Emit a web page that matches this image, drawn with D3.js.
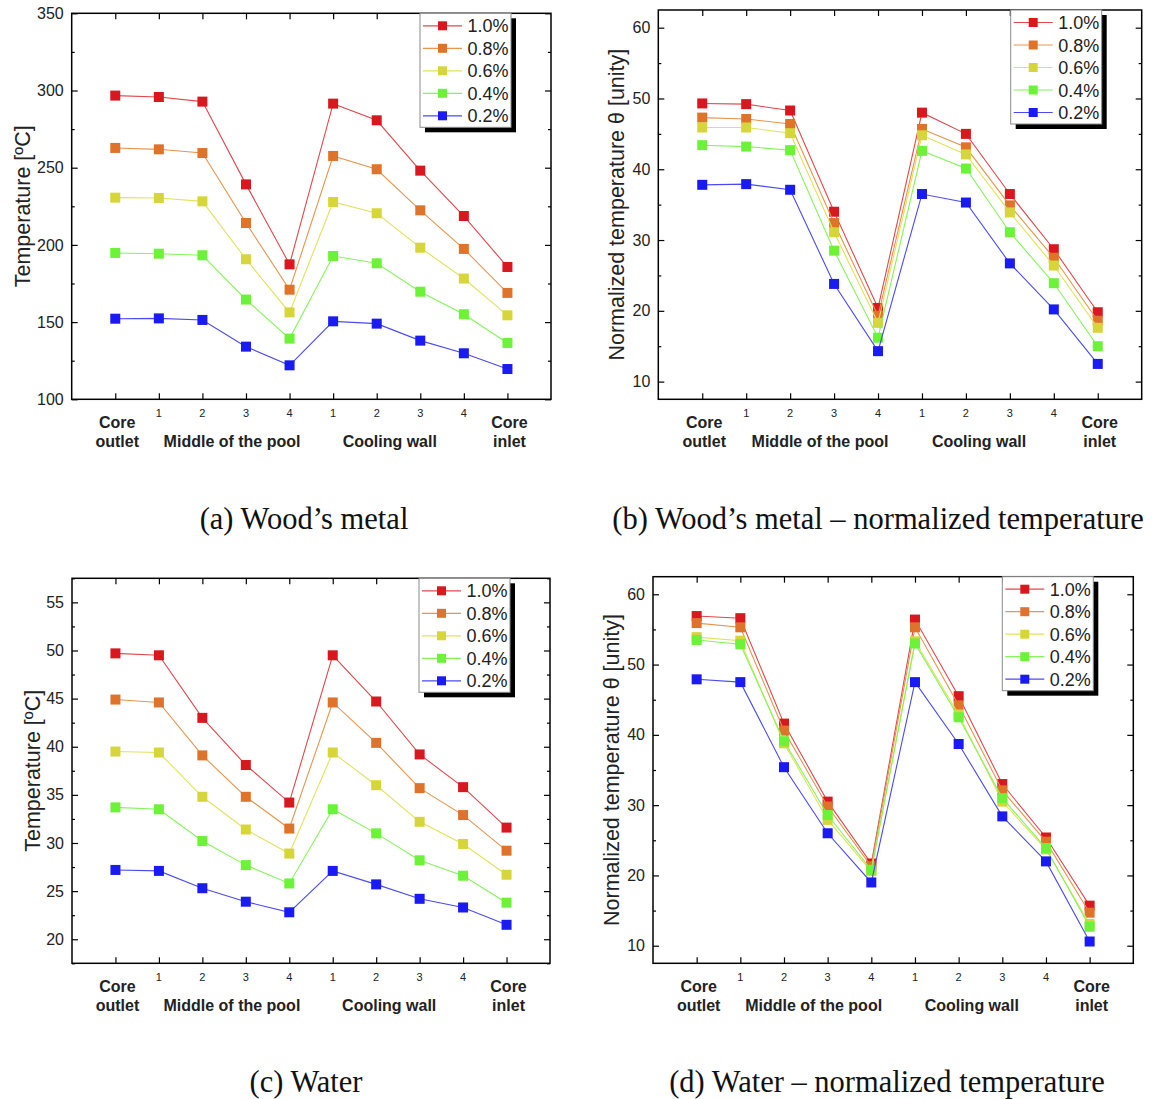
<!DOCTYPE html>
<html>
<head>
<meta charset="utf-8">
<script src="https://cdn.jsdelivr.net/npm/d3@7"></script>
<style>
  html, body { margin: 0; padding: 0; background: #fff; }
  svg { display: block; }
</style>
</head>
<body>
<svg id="chart" width="1152" height="1099"></svg>
<script>
// ---------- DATA ----------
const categories = ["Core outlet", "1", "2", "3", "4", "1", "2", "3", "4", "Core inlet"];
const groupLabels = ["Middle of the pool", "Cooling wall"];
const seriesNames = ["1.0%", "0.8%", "0.6%", "0.4%", "0.2%"];

// (a) Wood's metal, temperature [°C]
const woodTemp = [
  [296.7, 295.8, 292.8, 239.2, 187.4, 291.5, 280.7, 248.1, 218.7, 185.7],
  [262.8, 261.9, 259.5, 214.2, 171.0, 257.6, 249.0, 222.4, 197.4, 168.9],
  [230.6, 230.4, 228.2, 190.7, 156.3, 227.8, 220.5, 198.2, 178.2, 154.4],
  [194.8, 194.3, 193.3, 164.6, 139.3, 192.8, 188.1, 169.7, 155.1, 136.5],
  [152.2, 152.4, 151.4, 134.1, 122.0, 150.5, 149.0, 138.0, 129.8, 119.6]
];
// (b) Wood's metal, normalized temperature
const woodNorm = [
  [49.3, 49.2, 48.3, 34.0, 20.4, 48.0, 45.0, 36.5, 28.7, 19.8],
  [47.3, 47.1, 46.4, 32.4, 19.3, 45.7, 43.1, 34.9, 27.5, 18.6],
  [45.9, 45.9, 45.1, 31.1, 18.3, 44.8, 42.1, 33.9, 26.4, 17.6],
  [43.4, 43.2, 42.7, 28.5, 16.2, 42.6, 40.1, 31.1, 23.9, 15.0],
  [37.8, 37.9, 37.1, 23.8, 14.3, 36.5, 35.3, 26.7, 20.2, 12.5]
];
// (c) Water, temperature [°C]
const waterTemp = [
  [49.7, 49.5, 43.0, 38.1, 34.2, 49.5, 44.7, 39.2, 35.8, 31.6],
  [44.9, 44.6, 39.1, 34.8, 31.5, 44.6, 40.4, 35.7, 32.9, 29.2],
  [39.5, 39.4, 34.8, 31.4, 28.9, 39.4, 36.0, 32.2, 29.9, 26.7],
  [33.7, 33.5, 30.2, 27.7, 25.8, 33.5, 31.0, 28.2, 26.6, 23.8],
  [27.2, 27.1, 25.3, 23.9, 22.8, 27.1, 25.7, 24.2, 23.3, 21.5]
];
// (d) Water, normalized temperature
const waterNorm = [
  [56.9, 56.6, 41.6, 30.5, 21.7, 56.4, 45.5, 33.0, 25.4, 15.7],
  [55.9, 55.3, 40.6, 29.8, 21.3, 55.3, 44.2, 32.1, 24.8, 14.7],
  [53.9, 53.4, 38.8, 27.9, 20.6, 53.3, 42.9, 30.5, 23.7, 13.1],
  [53.5, 52.9, 39.1, 28.6, 20.8, 53.0, 42.5, 31.0, 23.9, 12.7],
  [47.9, 47.5, 35.4, 26.0, 19.0, 47.5, 38.7, 28.4, 22.0, 10.6]
];

const woodTempTicks = [100, 150, 200, 250, 300, 350];
const woodNormTicks = [10, 20, 30, 40, 50, 60];
const waterTempTicks = [20, 25, 30, 35, 40, 45, 50, 55];
const waterNormTicks = [10, 20, 30, 40, 50, 60];

const captions = [
  "(a) Wood\u2019s metal",
  "(b) Wood\u2019s metal \u2013 normalized temperature",
  "(c) Water",
  "(d) Water \u2013 normalized temperature"
];
const yTitles = ["Temperature [\u00baC]", "Normalized temperature \u03b8 [unity]",
                 "Temperature [\u00baC]", "Normalized temperature \u03b8 [unity]"];

// ---------- STYLE / LAYOUT ----------
const colors = ["#d8171f", "#e0732a", "#d6d63a", "#6cf236", "#1a1af2"];
const lineColors = ["#e0484e", "#e8944f", "#e2e25e", "#84f45a", "#4a4af4"];

const panels = [
  { data: woodTemp,  ticks: woodTempTicks,  domain: [100, 350],  minorStep: 25,
    left: 71.7, right: 551, top: 13.3, bottom: 399.3, titleX: 22, capX: 304, capY: 529, cap: 0 },
  { data: woodNorm,  ticks: woodNormTicks,  domain: [7.5, 62.5], minorStep: 5,
    left: 658.3, right: 1141.7, top: 10, bottom: 399.3, titleX: 616, capX: 878, capY: 529, cap: 1 },
  { data: waterTemp, ticks: waterTempTicks, domain: [17.5, 57.5], minorStep: 2.5,
    left: 72, right: 550, top: 578.3, bottom: 963.3, titleX: 32, capX: 306, capY: 1092, cap: 2 },
  { data: waterNorm, ticks: waterNormTicks, domain: [7.5, 62.5], minorStep: 5,
    left: 653, right: 1133.3, top: 576.7, bottom: 963.3, titleX: 611, capX: 887, capY: 1092, cap: 3 }
];

const svg = d3.select("#chart");
svg.append("rect").attr("width", 1152).attr("height", 1099).attr("fill", "#fff");

const sans = "'Liberation Sans', Arial, sans-serif";
const serif = "'Liberation Serif', 'Times New Roman', serif";

panels.forEach((p, pi) => {
  const g = svg.append("g");
  const x = d3.scaleLinear().domain([0, 11]).range([p.left, p.right]);
  const y = d3.scaleLinear().domain(p.domain).range([p.bottom, p.top]);
  const idx = d3.range(1, 11);

  // minor tick values
  const minors = [];
  for (let v = p.ticks[0] - p.minorStep; v <= p.domain[1] + 1e-9; v += p.minorStep) {
    if (v >= p.domain[0] - 1e-9 && !p.ticks.some(t => Math.abs(t - v) < 1e-6)) minors.push(v);
  }

  function styleAxis(sel) {
    sel.select(".domain").remove();
    sel.selectAll("line").attr("stroke", "#000").attr("stroke-width", 1.2);
  }

  const la = g.append("g").attr("transform", `translate(${p.left},0)`)
    .call(d3.axisLeft(y).tickValues(p.ticks).tickSizeInner(-6).tickSizeOuter(0).tickPadding(8));
  styleAxis(la);
  la.selectAll("text").attr("font-family", sans).attr("font-size", 16).attr("fill", "#222");
  styleAxis(g.append("g").attr("transform", `translate(${p.left},0)`)
    .call(d3.axisLeft(y).tickValues(minors).tickSizeInner(-3).tickSizeOuter(0).tickFormat("")));
  styleAxis(g.append("g").attr("transform", `translate(${p.right},0)`)
    .call(d3.axisRight(y).tickValues(p.ticks).tickSizeInner(-6).tickSizeOuter(0).tickFormat("")));
  styleAxis(g.append("g").attr("transform", `translate(${p.right},0)`)
    .call(d3.axisRight(y).tickValues(minors).tickSizeInner(-3).tickSizeOuter(0).tickFormat("")));
  styleAxis(g.append("g").attr("transform", `translate(0,${p.bottom})`)
    .call(d3.axisBottom(x).tickValues(idx).tickSizeInner(-6).tickSizeOuter(0).tickFormat("")));
  styleAxis(g.append("g").attr("transform", `translate(0,${p.top})`)
    .call(d3.axisTop(x).tickValues(idx).tickSizeInner(-6).tickSizeOuter(0).tickFormat("")));

  // frame
  g.append("rect")
    .attr("x", p.left).attr("y", p.top)
    .attr("width", p.right - p.left).attr("height", p.bottom - p.top)
    .attr("fill", "none").attr("stroke", "#000").attr("stroke-width", 1.5);

  // x labels
  const xl = g.append("g").attr("font-family", sans).attr("fill", "#222");
  categories.forEach((c, i) => {
    if (c === "Core outlet" || c === "Core inlet") {
      const parts = c.split(" ");
      const t = xl.append("text").attr("text-anchor", "middle")
        .attr("font-size", 16).attr("font-weight", "bold");
      t.append("tspan").attr("x", x(i + 1) + 2).attr("y", p.bottom + 29).text(parts[0]);
      t.append("tspan").attr("x", x(i + 1) + 2).attr("y", p.bottom + 48).text(parts[1]);
    } else {
      xl.append("text").attr("text-anchor", "middle").attr("font-size", 11)
        .attr("x", x(i + 1)).attr("y", p.bottom + 18).text(c);
    }
  });
  xl.append("text").attr("text-anchor", "middle").attr("font-size", 16).attr("font-weight", "bold")
    .attr("x", x(3.68)).attr("y", p.bottom + 48).text(groupLabels[0]);
  xl.append("text").attr("text-anchor", "middle").attr("font-size", 16).attr("font-weight", "bold")
    .attr("x", x(7.3)).attr("y", p.bottom + 48).text(groupLabels[1]);

  // y title
  const cy = (p.top + p.bottom) / 2;
  g.append("text").attr("font-family", sans).attr("font-size", 21.5).attr("fill", "#222")
    .attr("text-anchor", "middle")
    .attr("transform", `translate(${p.titleX + 8},${cy}) rotate(-90)`)
    .text(yTitles[pi]);

  // series
  const line = d3.line().x((d, i) => x(i + 1)).y(d => y(d));
  p.data.forEach((s, si) => {
    g.append("path").datum(s).attr("d", line)
      .attr("fill", "none").attr("stroke", lineColors[si]).attr("stroke-width", 1.1);
    g.append("g").selectAll("rect").data(s).join("rect")
      .attr("x", (d, i) => x(i + 1) - 5).attr("y", d => y(d) - 5)
      .attr("width", 10).attr("height", 10).attr("fill", colors[si]);
  });

  // legend
  const lw = 91, lh = 114;
  const lx = p.right - 40 - lw, ly = p.top;
  const lg = g.append("g");
  lg.append("rect").attr("x", lx + 5).attr("y", ly + 5).attr("width", lw).attr("height", lh).attr("fill", "#000");
  lg.append("rect").attr("x", lx).attr("y", ly).attr("width", lw).attr("height", lh)
    .attr("fill", "#fff").attr("stroke", "#8a8a8a").attr("stroke-width", 1);
  seriesNames.forEach((n, si) => {
    const ry = ly + 12.5 + si * 22.5;
    lg.append("line").attr("x1", lx + 3).attr("x2", lx + 42).attr("y1", ry).attr("y2", ry)
      .attr("stroke", lineColors[si]).attr("stroke-width", 1.2);
    lg.append("rect").attr("x", lx + 22.5 - 4.5).attr("y", ry - 4.5).attr("width", 9).attr("height", 9)
      .attr("fill", colors[si]);
    lg.append("text").attr("x", lx + 47.5).attr("y", ry + 6.5)
      .attr("font-family", sans).attr("font-size", 18).attr("fill", "#222").text(n);
  });

  // caption
  svg.append("text").attr("x", p.capX).attr("y", p.capY).attr("text-anchor", "middle")
    .attr("font-family", serif).attr("font-size", 30.5).attr("fill", "#111")
    .text(captions[p.cap]);
});
</script>
</body>
</html>
